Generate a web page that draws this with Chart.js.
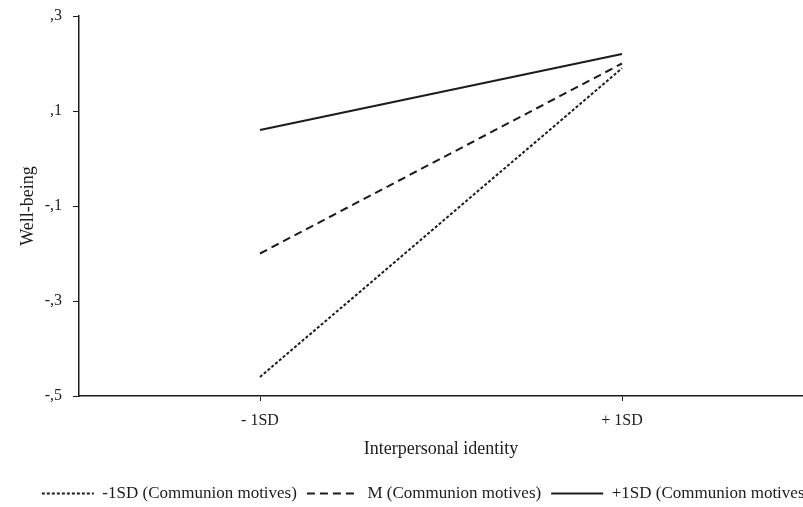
<!DOCTYPE html>
<html>
<head>
<meta charset="utf-8">
<script src="https://cdn.jsdelivr.net/npm/chart.js@4/dist/chart.umd.min.js"></script>
<style>
	html, body { margin: 0; padding: 0; background: #fff; overflow: hidden; }
	/* the figure is cut off on the right, like the scanned original */
	#wrap { width: 852px; height: 512px; }
</style>
</head>
<body>
<div id="wrap"><canvas id="wellbeing_chart"></canvas></div>
<script>
// categories on the x axis
var categories = ["- 1SD", "+ 1SD"];

// well-being at low / high interpersonal identity
var lowCommunion = [-0.46, 0.19];
var meanCommunion = [-0.20, 0.20];
var highCommunion = [0.06, 0.22];

var seriesNames = ["-1SD (Communion motives)", "M (Communion motives)", "+1SD (Communion motives)"];
var seriesDashes = [[3, 2], [8, 5], []];

// y ticks, written the way the figure writes them
var yTickValues = [-0.5, -0.3, -0.1, 0.1, 0.3];
var yTickLabels = ["-,5", "-,3", "-,1", ",1", ",3"];

var ink = "#1c1c1c";
var serif = "'Liberation Serif', 'DejaVu Serif', serif";

function lineSet(label, data, dash){
	return {
		label: label,
		data: data,
		borderColor: ink,
		backgroundColor: ink,
		borderWidth: 2,
		borderDash: dash,
		pointRadius: 0,
		pointHoverRadius: 0,
		tension: 0,
		fill: false
	};
}

// legend samples: a short stroke in the dataset's own dash
function legendLabels(chart){
	return chart.data.datasets.map(function(ds, i){
		return {
			text: ds.label,
			datasetIndex: i,
			fillStyle: ink,
			strokeStyle: ink,
			fontColor: ink,
			lineWidth: 2,
			lineDash: ds.borderDash,
			pointStyle: "line",
			hidden: false
		};
	});
}

var ctx = document.getElementById("wellbeing_chart");
var chart = new Chart(ctx, {
	type: "line",
	data: {
		labels: categories,
		datasets: [
			lineSet(seriesNames[0], lowCommunion, seriesDashes[0]),
			lineSet(seriesNames[1], meanCommunion, seriesDashes[1]),
			lineSet(seriesNames[2], highCommunion, seriesDashes[2])
		]
	},
	options: {
		responsive: true,
		maintainAspectRatio: false,
		animation: false,
		layout: {
			padding: { top: 0, right: 0, bottom: 0, left: 0 }
		},
		plugins: {
			tooltip: { enabled: false },
			legend: {
				position: "bottom",
				labels: {
					usePointStyle: true,
					pointStyle: "line",
					pointStyleWidth: 52,
					color: ink,
					padding: 10,
					font: { family: serif, size: 17 },
					generateLabels: legendLabels
				}
			}
		},
		scales: {
			x: {
				offset: true,
				afterFit: function(scale){ scale.height = 79; },
				grid: {
					offset: false,
					drawOnChartArea: false,
					drawTicks: true,
					tickLength: 5,
					tickColor: ink
				},
				border: { display: true, color: ink, width: 1.5 },
				ticks: {
					color: ink,
					padding: 10,
					font: { family: serif, size: 16 }
				},
				title: {
					display: true,
					text: "Interpersonal identity",
					color: ink,
					padding: { top: 4, bottom: 15 },
					font: { family: serif, size: 18 }
				}
			},
			y: {
				min: -0.5,
				max: 0.3,
				afterFit: function(scale){
					scale.width = 79;
					scale.paddingTop = 16;
				},
				afterBuildTicks: function(scale){
					scale.ticks = yTickValues.map(function(v){ return { value: v }; });
				},
				grid: {
					drawOnChartArea: false,
					drawTicks: true,
					tickLength: 6,
					tickColor: ink
				},
				border: { display: true, color: ink, width: 1.5 },
				ticks: {
					color: ink,
					padding: 11,
					font: { family: serif, size: 16 },
					callback: function(value){
						var i = yTickValues.findIndex(function(v){ return Math.abs(v - value) < 1e-6; });
						return i >= 0 ? yTickLabels[i] : "";
					}
				},
				title: {
					display: true,
					text: "Well-being",
					color: ink,
					padding: { top: 17, bottom: 4 },
					font: { family: serif, size: 18 }
				}
			},
			// empty strip on the right so the plot ends at the window edge
			spacer: {
				type: "linear",
				position: "right",
				display: true,
				afterFit: function(scale){ scale.width = 49; },
				grid: { display: false, drawTicks: false },
				border: { display: false },
				ticks: { display: false }
			}
		}
	}
});
</script>
</body>
</html>
